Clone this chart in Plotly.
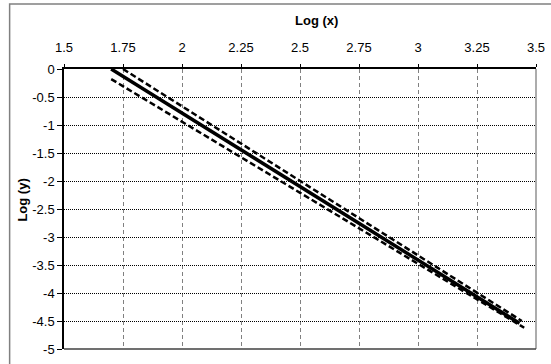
import plotly.graph_objects as go

# Data
fit_x = [1.70, 3.43]
fit_y = [0.0, -4.54]
upper_x = [1.75, 3.44]
upper_y = [0.0, -4.50]
lower_x = [1.70, 3.45]
lower_y = [-0.18, -4.62]

x_ticks = [1.5, 1.75, 2, 2.25, 2.5, 2.75, 3, 3.25, 3.5]
x_tick_labels = ["1.5", "1.75", "2", "2.25", "2.5", "2.75", "3", "3.25", "3.5"]
y_ticks = [0, -0.5, -1, -1.5, -2, -2.5, -3, -3.5, -4, -4.5, -5]
y_tick_labels = ["0", "-0.5", "-1", "-1.5", "-2", "-2.5", "-3", "-3.5", "-4", "-4.5", "-5"]

FONT = "Liberation Sans, Arial, sans-serif"

fig = go.Figure()
fig.add_trace(go.Scatter(x=upper_x, y=upper_y, mode="lines",
                         line=dict(color="black", width=2.5, dash="6px,3px"), showlegend=False))
fig.add_trace(go.Scatter(x=lower_x, y=lower_y, mode="lines",
                         line=dict(color="black", width=2.5, dash="6px,3px"), showlegend=False))
fig.add_trace(go.Scatter(x=fit_x, y=fit_y, mode="lines",
                         line=dict(color="black", width=3.5), showlegend=False))

fig.update_layout(
    width=551, height=364,
    margin=dict(l=63.5, r=14.5, t=69, b=15),
    paper_bgcolor="white", plot_bgcolor="white",
    font=dict(family=FONT, size=13, color="black"),
    xaxis=dict(
        side="top", range=[1.5, 3.5], tickvals=x_ticks, ticktext=x_tick_labels,
        showgrid=True, gridcolor="#808080", griddash="4px,3px", gridwidth=1,
        showline=True, linecolor="black", linewidth=1.5,
        ticks="outside", ticklen=3, tickcolor="black",
        zeroline=False, ticklabelstandoff=7, automargin=False,
    ),
    yaxis=dict(
        range=[-5, 0], tickvals=y_ticks, ticktext=y_tick_labels,
        showgrid=True, gridcolor="black", griddash="1px,1px", gridwidth=1,
        showline=True, linecolor="black", linewidth=1.5,
        ticks="outside", ticklen=5, tickcolor="black",
        zeroline=False, automargin=False,
    ),
    annotations=[
        dict(text="<b>Log (x)</b>", xref="paper", yref="paper", x=0.534, y=1.173,
             xanchor="center", yanchor="middle",
             showarrow=False, font=dict(size=13, family=FONT)),
        dict(text="<b>Log (y)</b>", xref="paper", yref="paper", x=-0.0899, y=0.532,
             xanchor="center", yanchor="middle",
             textangle=-90, showarrow=False, font=dict(size=13, family=FONT)),
    ],
    shapes=[
        # outer chart frame
        dict(type="rect", xref="paper", yref="paper", x0=-0.1152, x1=1.2, y0=-0.2, y1=1.232,
             line=dict(color="#808080", width=1.5), layer="below"),
        # right and bottom plot borders
        dict(type="line", xref="paper", yref="paper", x0=1, x1=1, y0=0, y1=1,
             line=dict(color="#909090", width=1.5)),
        dict(type="line", xref="paper", yref="paper", x0=0, x1=1, y0=0, y1=0,
             line=dict(color="#404040", width=1.5)),
    ],
)

fig.write_html("out.html", config={"displayModeBar": False},
               post_script="document.body.style.margin='0';")
